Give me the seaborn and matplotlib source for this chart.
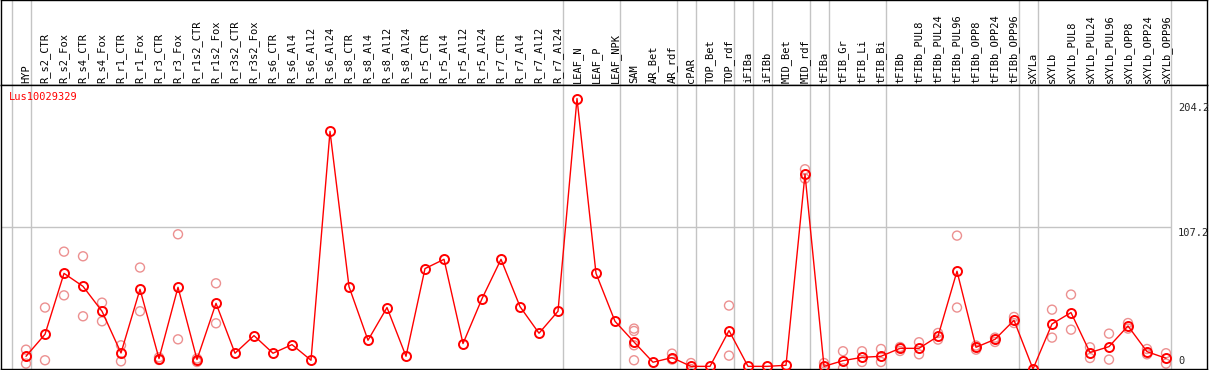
import matplotlib
matplotlib.use("Agg")
import matplotlib.pyplot as plt
import matplotlib.transforms as mtransforms
import pandas as pd
import seaborn as sns

# sample names, in plot order
categories = [
    "HYP", "R_s2_CTR", "R_s2_Fox", "R_s4_CTR", "R_s4_Fox", "R_r1_CTR", "R_r1_Fox",
    "R_r3_CTR", "R_r3_Fox", "R_r1s2_CTR", "R_r1s2_Fox", "R_r3s2_CTR", "R_r3s2_Fox",
    "R_s6_CTR", "R_s6_Al4", "R_s6_Al12", "R_s6_Al24", "R_s8_CTR", "R_s8_Al4",
    "R_s8_Al12", "R_s8_Al24", "R_r5_CTR", "R_r5_Al4", "R_r5_Al12", "R_r5_Al24",
    "R_r7_CTR", "R_r7_Al4", "R_r7_Al12", "R_r7_Al24", "LEAF_N", "LEAF_P", "LEAF_NPK",
    "SAM", "AR_Bet", "AR_rdf", "cPAR", "TOP_Bet", "TOP_rdf", "iFIBa", "iFIBb",
    "MID_Bet", "MID_rdf", "tFIBa", "tFIB_Gr", "tFIB_Li", "tFIB_Bi", "tFIBb",
    "tFIBb_PUL8", "tFIBb_PUL24", "tFIBb_PUL96", "tFIBb_OPP8", "tFIBb_OPP24",
    "tFIBb_OPP96", "sXYLa", "sXYLb", "sXYLb_PUL8", "sXYLb_PUL24", "sXYLb_PUL96",
    "sXYLb_OPP8", "sXYLb_OPP24", "sXYLb_OPP96",
]

# mean expression per sample
means = [
    9.6, 26.2, 72.2, 62.4, 43.6, 12.1, 60.2, 7.9, 61.7, 7.1,
    49.6, 11.9, 25.2, 11.9, 18.4, 6.6, 179.4, 62.2, 21.7, 46.4,
    9.6, 75.8, 82.8, 19.2, 53.1, 82.8, 47.1, 27.0, 43.6, 204.2,
    72.2, 36.0, 20.4, 5.1, 8.6, 2.0, 2.0, 29.0, 2.0, 2.0,
    2.8, 147.0, 2.0, 6.3, 8.8, 9.6, 15.6, 15.6, 24.7, 73.8,
    16.4, 22.4, 36.8, 0.0, 34.0, 42.6, 12.4, 16.9, 32.5, 13.1, 8.1,
]

# individual replicates (empty where none are shown)
reps = [
    [14.6, 4.1], [46.4, 6.6], [88.6, 55.6], [85.1, 39.8], [50.1, 36.0],
    [17.9, 5.8], [76.6, 43.6], [8.8, 6.8], [101.7, 22.4], [7.9, 5.3],
    [64.7, 34.5], [], [], [], [], [], [], [], [], [], [], [], [], [], [],
    [], [], [], [], [], [], [],
    [30.5, 28.7, 17.9, 6.6], [], [11.6, 7.1], [4.5, 0.0], [], [47.9, 10.1],
    [], [], [], [150.8, 143.7], [4.5, 0.0], [13.4, 0.5], [13.4, 5.3],
    [15.1, 5.3], [16.6, 13.6], [20.2, 11.1], [27.2, 22.2], [100.7, 46.4],
    [14.6, 17.7], [20.4, 23.7], [39.3, 34.7], [], [44.8, 23.7], [56.2, 29.7],
    [16.4, 8.3], [26.7, 7.1], [34.7, 30.5], [15.1, 11.1], [11.9, 4.1],
]

# last sample index of each tissue group (separator drawn after it)
group_ends = [-1, 0, 28, 31, 34, 35, 37, 38, 39, 41, 42, 45, 52, 53, 60]

gene = "Lus10029329"
y_ticks = [0, 107.2, 204.2]
y_max = 214.4

sns.set_style("white")
plt.rcParams["font.family"] = ["DejaVu Sans Mono", "DejaVu Sans"]

df_mean = pd.DataFrame({"x": range(len(categories)), "value": means})
df_rep = pd.DataFrame(
    [(i, v) for i, vals in enumerate(reps) for v in vals], columns=["x", "value"]
)

W, H = 1209, 370
fig = plt.figure(figsize=(W / 100, H / 100), dpi=100)
ax_head = fig.add_axes([1 / W, (H - 85) / H, 1206 / W, 85 / H])
ax = fig.add_axes([1 / W, 1 / H, 1206 / W, 284 / H])

xlim = ((1 - 26) / 19, (1207 - 26) / 19)
grid_col = "#c4c4c4"
rep_col = "#ec9090"

for a in (ax_head, ax):
    a.set_xlim(*xlim)
    a.set_xticks([])
    a.set_yticks([])
    for s in a.spines.values():
        s.set_color("black")
        s.set_linewidth(1.0)
    for g in group_ends:
        a.axvline(g + 0.25, color=grid_col, lw=1.0, zorder=0)

# header with sample names
ax_head.set_ylim(0, 1)
for i, name in enumerate(categories):
    ax_head.text(i, 0.025, name, rotation=90, ha="center", va="bottom",
                 fontsize=7.5, color="black")

# data panel
ax.set_ylim(0, y_max)
ax.hlines(y_ticks[1], xlim[0], group_ends[-1] + 0.25, color=grid_col, lw=1.0, zorder=0)

sns.scatterplot(data=df_rep, x="x", y="value", ax=ax, marker="o", s=42,
                facecolors="none", edgecolor=rep_col, linewidth=1.0, zorder=2,
                legend=False)
sns.lineplot(data=df_mean, x="x", y="value", ax=ax, color="red", lw=1.0,
             marker="o", markersize=6.5, markerfacecolor="none",
             markeredgecolor="red", markeredgewidth=1.4, sort=False,
             estimator=None, zorder=3)
ax.set_xlim(*xlim)
ax.set_xlabel("")
ax.set_ylabel("")
ax.set_xticks([])
ax.set_yticks([])

ax.text(0.0066, 0.959, gene, transform=ax.transAxes, color="red",
        fontsize=7.5, ha="left", va="center")

lab_x = (1178 - 26) / 19
dy = lambda px: mtransforms.offset_copy(ax.transData, fig=fig, x=0, y=px, units="dots")
ax.text(lab_x, y_ticks[2], f"{y_ticks[2]:g}", transform=dy(-4), fontsize=7.5,
        ha="left", va="top")
ax.text(lab_x, y_ticks[1], f"{y_ticks[1]:g}", transform=dy(-1), fontsize=7.5,
        ha="left", va="top")
ax.text(lab_x, y_ticks[0], f"{y_ticks[0]:g}", transform=dy(3), fontsize=7.5,
        ha="left", va="bottom")

fig.savefig("out.png", dpi=100)
